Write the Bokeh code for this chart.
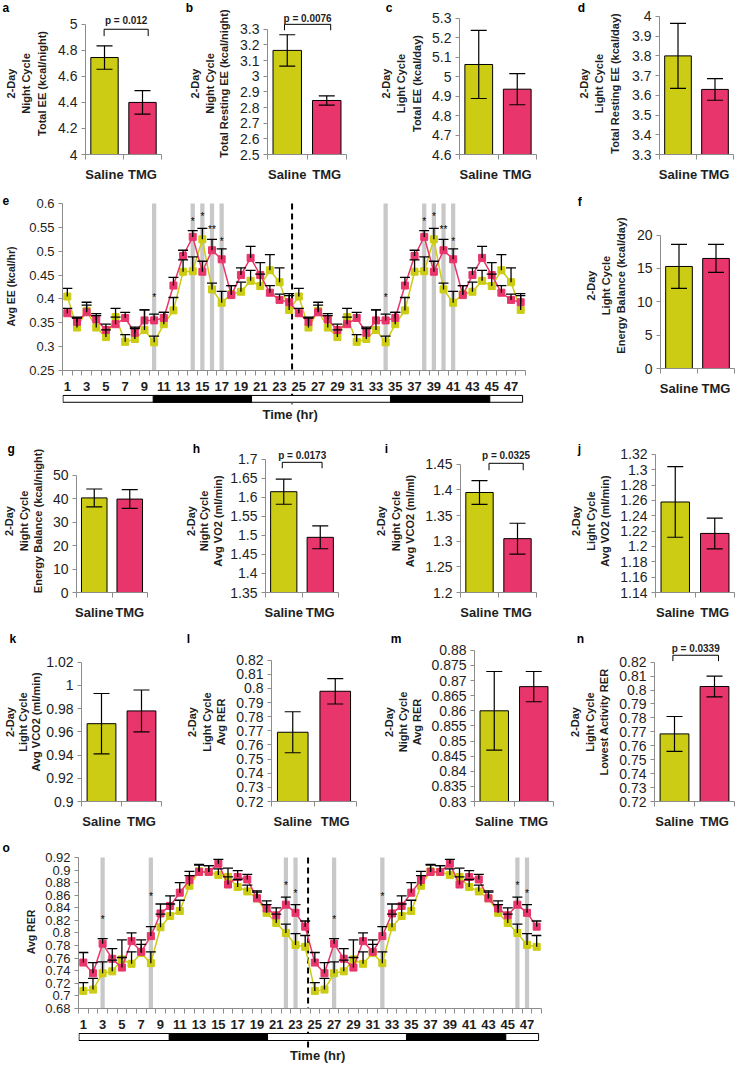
import math
from bokeh.plotting import figure
from bokeh.models import (Range1d, FixedTicker, CustomJSTickFormatter, Label,
                          Whisker, TeeHead, ColumnDataSource)
from bokeh.layouts import row, column
from bokeh.embed import file_html
from bokeh.resources import INLINE
from bokeh.core.properties import value

# ---------------- data ----------------
groups = ["Saline", "TMG"]
bar_colors = ["#cccc14", "#e8356b"]

a_mean = [4.745, 4.40]; a_err = [0.09, 0.09]
a_ticks = [4, 4.2, 4.4, 4.6, 4.8, 5]
b_mean = [3.165, 2.845]; b_err = [0.10, 0.03]
b_ticks = [2.5, 2.6, 2.7, 2.8, 2.9, 3, 3.1, 3.2, 3.3]
c_mean = [5.063, 4.936]; c_err = [0.175, 0.08]
c_ticks = [4.6, 4.7, 4.8, 4.9, 5, 5.1, 5.2, 5.3]
d_mean = [3.80, 3.63]; d_err = [0.165, 0.055]
d_ticks = [3.3, 3.4, 3.5, 3.6, 3.7, 3.8, 3.9, 4]
f_mean = [15.3, 16.5]; f_err = [3.3, 2.1]
f_ticks = [0, 5, 10, 15, 20]
g_mean = [40.3, 39.8]; g_err = [3.8, 4.0]
g_ticks = [0, 10, 20, 30, 40, 50]
h_mean = [1.615, 1.495]; h_err = [0.033, 0.030]
h_ticks = [1.35, 1.4, 1.45, 1.5, 1.55, 1.6, 1.65, 1.7]
i_mean = [1.395, 1.305]; i_err = [0.023, 0.030]
i_ticks = [1.2, 1.25, 1.3, 1.35, 1.4, 1.45]
j_mean = [1.258, 1.217]; j_err = [0.046, 0.020]
j_ticks = [1.14, 1.16, 1.18, 1.2, 1.22, 1.24, 1.26, 1.28, 1.3, 1.32]
k_mean = [0.967, 0.978]; k_err = [0.026, 0.018]
k_ticks = [0.9, 0.92, 0.94, 0.96, 0.98, 1, 1.02]
l_mean = [0.769, 0.798]; l_err = [0.0145, 0.009]
l_ticks = [0.72, 0.73, 0.74, 0.75, 0.76, 0.77, 0.78, 0.79, 0.8, 0.81, 0.82]
m_mean = [0.860, 0.868]; m_err = [0.013, 0.005]
m_ticks = [0.83, 0.835, 0.84, 0.845, 0.85, 0.855, 0.86, 0.865, 0.87, 0.875, 0.88]
n_mean = [0.7685, 0.8025]; n_err = [0.0125, 0.0075]
n_ticks = [0.72, 0.73, 0.74, 0.75, 0.76, 0.77, 0.78, 0.79, 0.8, 0.81, 0.82]

hours = list(range(1, 49))
hour_labels = list(range(1, 49, 2))

e_saline = [0.405, 0.340, 0.375, 0.340, 0.320, 0.362, 0.310, 0.316, 0.335, 0.309, 0.347, 0.376,
            0.457, 0.458, 0.525, 0.420, 0.392, 0.410, 0.415, 0.438, 0.427, 0.460, 0.435, 0.377,
            0.405, 0.340, 0.375, 0.340, 0.320, 0.362, 0.310, 0.316, 0.335, 0.309, 0.347, 0.376,
            0.457, 0.458, 0.525, 0.420, 0.392, 0.410, 0.415, 0.438, 0.427, 0.460, 0.435, 0.377]
e_saline_err = [0.017, 0.020, 0.018, 0.025, 0.015, 0.018, 0.015, 0.022, 0.042, 0.013, 0.025, 0.027,
                0.025, 0.030, 0.023, 0.013, 0.024, 0.018, 0.020, 0.022, 0.025, 0.033, 0.030, 0.030,
                0.017, 0.020, 0.018, 0.025, 0.015, 0.018, 0.015, 0.022, 0.042, 0.013, 0.025, 0.027,
                0.025, 0.030, 0.023, 0.013, 0.024, 0.018, 0.020, 0.022, 0.025, 0.033, 0.030, 0.030]
e_tmg = [0.370, 0.352, 0.372, 0.357, 0.335, 0.347, 0.360, 0.329, 0.355, 0.355, 0.360, 0.428,
         0.490, 0.530, 0.457, 0.502, 0.483, 0.408, 0.450, 0.486, 0.450, 0.413, 0.398, 0.393,
         0.370, 0.352, 0.372, 0.357, 0.335, 0.347, 0.360, 0.329, 0.355, 0.355, 0.360, 0.428,
         0.490, 0.530, 0.457, 0.502, 0.483, 0.408, 0.450, 0.486, 0.450, 0.413, 0.398, 0.393]
e_tmg_err = [0.010, 0.010, 0.015, 0.012, 0.012, 0.015, 0.012, 0.012, 0.022, 0.013, 0.012, 0.017,
             0.012, 0.013, 0.022, 0.023, 0.022, 0.020, 0.015, 0.024, 0.026, 0.015, 0.012, 0.018,
             0.010, 0.010, 0.015, 0.012, 0.012, 0.015, 0.012, 0.012, 0.022, 0.013, 0.012, 0.017,
             0.012, 0.013, 0.022, 0.023, 0.022, 0.020, 0.015, 0.024, 0.026, 0.015, 0.012, 0.018]
e_ticks = [0.25, 0.3, 0.35, 0.4, 0.45, 0.5, 0.55, 0.6]
e_sig_hours = [10, 14, 15, 16, 17, 34, 38, 39, 40, 41]
e_sig_marks = ["*", "*", "*", "**", "*", "*", "*", "*", "**", "*"]
e_sig_y = [0.404, 0.562, 0.573, 0.545, 0.520, 0.404, 0.562, 0.573, 0.545, 0.520]

o_saline = [0.708, 0.710, 0.736, 0.739, 0.758, 0.751, 0.768, 0.752, 0.809, 0.827, 0.835, 0.875,
            0.898, 0.897, 0.892, 0.889, 0.873, 0.866, 0.855, 0.832, 0.816, 0.800, 0.781, 0.778,
            0.708, 0.710, 0.736, 0.739, 0.758, 0.751, 0.768, 0.752, 0.809, 0.827, 0.835, 0.875,
            0.898, 0.897, 0.892, 0.889, 0.873, 0.866, 0.855, 0.832, 0.816, 0.800, 0.781, 0.778]
o_saline_err = [0.013, 0.018, 0.018, 0.018, 0.031, 0.019, 0.021, 0.018, 0.021, 0.019, 0.017, 0.016,
                0.010, 0.010, 0.010, 0.014, 0.012, 0.010, 0.012, 0.013, 0.014, 0.014, 0.018, 0.018,
                0.013, 0.018, 0.018, 0.018, 0.031, 0.019, 0.021, 0.018, 0.021, 0.019, 0.017, 0.016,
                0.010, 0.010, 0.010, 0.014, 0.012, 0.010, 0.012, 0.013, 0.014, 0.014, 0.018, 0.018]
o_tmg = [0.753, 0.736, 0.783, 0.759, 0.745, 0.787, 0.770, 0.795, 0.831, 0.843, 0.864, 0.884,
         0.897, 0.897, 0.910, 0.877, 0.889, 0.885, 0.855, 0.839, 0.828, 0.845, 0.832, 0.810,
         0.753, 0.736, 0.783, 0.759, 0.745, 0.787, 0.770, 0.795, 0.831, 0.843, 0.864, 0.884,
         0.897, 0.897, 0.910, 0.877, 0.889, 0.885, 0.855, 0.839, 0.828, 0.845, 0.832, 0.810]
o_tmg_err = [0.016, 0.017, 0.008, 0.016, 0.016, 0.013, 0.012, 0.015, 0.015, 0.016, 0.016, 0.014,
             0.012, 0.010, 0.007, 0.012, 0.010, 0.008, 0.010, 0.012, 0.012, 0.012, 0.013, 0.009,
             0.016, 0.017, 0.008, 0.016, 0.016, 0.013, 0.012, 0.015, 0.015, 0.016, 0.016, 0.014,
             0.012, 0.010, 0.007, 0.012, 0.010, 0.008, 0.010, 0.012, 0.012, 0.012, 0.013, 0.009]
o_ticks = [0.68, 0.7, 0.72, 0.74, 0.76, 0.78, 0.8, 0.82, 0.84, 0.86, 0.88, 0.9, 0.92]
o_sig_hours = [3, 8, 22, 23, 27, 32, 46, 47]
o_sig_marks = ["*"] * 8
o_sig_y = [0.822, 0.858, 0.876, 0.862, 0.822, 0.858, 0.876, 0.862]

light_span = [0.55, 48.2]
dark_start = [9.9, 34.5]
dark_end = [20.1, 44.8]
day_split = 24.3

# ---------------- styling / layout helpers ----------------
FONT = "Liberation Sans"
AXC = "#8c8c8c"
TXC = "#1e1e1e"
PW, PH = 735, 1064


def fx(X):
    return (X - 2.0) * PW / 746.0


def fy(Y):
    return (Y - 2.0) * PH / 1078.0


fmt = CustomJSTickFormatter(code="return String(Number(tick.toFixed(4)));")


def make_fig(cell, frame, xr, yref):
    cx0, cy0, cx1, cy1 = cell
    x0, x1, ft, fb = frame
    vt, pt, vb, pb = yref
    kk = (pb - pt) / (vt - vb)

    def yd(py):
        return vt - (py - pt) / kk

    def xd(px):
        return xr[0] + (px - x0) * (xr[1] - xr[0]) / (x1 - x0)

    L, T, R, B = round(fx(cx0)), round(fy(cy0)), round(fx(cx1)), round(fy(cy1))
    FL, FT, FR, FB = round(fx(x0)), round(fy(ft)), round(fx(x1)), round(fy(fb))
    p = figure(width=R - L, height=B - T, x_range=Range1d(*xr), y_range=Range1d(yd(fb), yd(ft)),
               toolbar_location=None, output_backend="svg",
               min_border_left=FL - L, min_border_right=R - FR,
               min_border_top=FT - T, min_border_bottom=B - FB,
               outline_line_color=None, background_fill_color="white",
               border_fill_color="white")
    p.xgrid.visible = False
    p.ygrid.visible = False
    p.title.visible = False
    p._geo = dict(FL=FL, FT=FT, L=L, T=T)
    return p, xd, yd


def set_letter(p, letter, lx, ly):
    g = p._geo
    border = g["FT"] - g["T"]
    box_bottom = (fy(ly) - g["T"]) + 6.0
    st = 2.0 * (border - box_bottom)
    st = max(-12.0, min(st, border - 16.0))
    p.title.visible = True
    p.title.text = letter
    p.title.align = "left"
    p.title.vertical_align = "bottom"
    p.title.offset = (fx(lx) - g["L"]) - (g["FL"] - g["L"])
    try:
        p.title.standoff = st
    except Exception:
        p.title.standoff = 0
    p.title.text_font = FONT
    p.title.text_font_size = "12px"
    p.title.text_font_style = "bold"
    p.title.text_color = "black"


def style_y(p, ticks, fs, label, label_fs, standoff, lh):
    ax = p.yaxis[0]
    ax.ticker = FixedTicker(ticks=ticks)
    ax.formatter = fmt
    ax.bounds = (ticks[0], ticks[-1])
    ax.axis_line_color = AXC
    ax.major_tick_line_color = AXC
    ax.minor_tick_line_color = None
    ax.major_tick_out = 4
    ax.major_tick_in = 0
    ax.major_label_standoff = 4
    ax.major_label_text_font = FONT
    ax.major_label_text_font_size = f"{fs}px"
    ax.major_label_text_color = TXC
    ax.axis_label = label
    ax.axis_label_standoff = standoff
    ax.axis_label_text_font = FONT
    ax.axis_label_text_font_size = f"{label_fs}px"
    ax.axis_label_text_font_style = "bold"
    ax.axis_label_text_color = TXC
    ax.axis_label_text_line_height = lh


def bar_panel(letter, lxy, cell, frame, yref, ticks, ylines, lab, means, errs, pinfo=None):
    p, xd, yd = make_fig(cell, frame, (0.5, len(groups) + 0.5), yref)
    style_y(p, ticks, 14, "\n".join(ylines), 11, lab[0], lab[1])
    ax = p.xaxis[0]
    xs = [i + 1 for i in range(len(groups))]
    ax.ticker = FixedTicker(ticks=xs, minor_ticks=[i + 0.5 for i in range(len(groups) + 1)])
    ax.major_label_overrides = {x: g for x, g in zip(xs, groups)}
    ax.major_tick_line_color = None
    ax.major_tick_out = 0
    ax.major_tick_in = 0
    ax.minor_tick_out = 5
    ax.minor_tick_in = 0
    ax.minor_tick_line_color = AXC
    ax.axis_line_color = AXC
    ax.major_label_standoff = 7
    ax.major_label_text_font = FONT
    ax.major_label_text_font_style = "bold"
    ax.major_label_text_font_size = "13px"
    ax.major_label_text_color = TXC

    src = ColumnDataSource(dict(x=xs, top=means,
                                lo=[m - e for m, e in zip(means, errs)],
                                hi=[m + e for m, e in zip(means, errs)],
                                color=bar_colors))
    p.vbar(x="x", top="top", bottom=ticks[0], width=0.72, fill_color="color",
           line_color="black", line_width=1, source=src)
    p.add_layout(Whisker(source=src, base="x", lower="lo", upper="hi", line_color="black",
                         line_width=1.2, level="annotation",
                         upper_head=TeeHead(size=16, line_color="black", line_width=1.2),
                         lower_head=TeeHead(size=16, line_color="black", line_width=1.2)))
    set_letter(p, letter, *lxy)
    if pinfo is not None:
        text, bx, (ty, top, leg) = pinfo
        p.line(x=[bx[0], bx[0], bx[1], bx[1]], y=[yd(leg), yd(top), yd(top), yd(leg)],
               line_color="black", line_width=1)
        p.add_layout(Label(x=(bx[0] + bx[1]) / 2, y=yd(ty), text=text, text_font=FONT,
                           text_font_size="10px", text_font_style="bold", text_color=TXC,
                           text_align="center", text_baseline="middle"))
    return p


def line_panel(letter, lxy, cell, frame, yref, ticks, ylabel, lab_standoff, sal, sal_err, tmg, tmg_err,
               sig_h, sig_m, sig_y):
    p, xd, yd = make_fig(cell, frame, (0.5, 48.5), yref)
    style_y(p, ticks, 13, ylabel, 10.5, lab_standoff, 1.2)
    ax = p.xaxis[0]
    ax.ticker = FixedTicker(ticks=hour_labels, minor_ticks=[h - 0.5 for h in hours] + [hours[-1] + 0.5])
    ax.major_tick_out = 0
    ax.major_tick_in = 0
    ax.major_tick_line_color = None
    ax.minor_tick_out = 5
    ax.minor_tick_in = 0
    ax.minor_tick_line_color = AXC
    ax.axis_line_color = AXC
    ax.major_label_standoff = 6
    ax.major_label_text_font = FONT
    ax.major_label_text_font_style = "bold"
    ax.major_label_text_font_size = "13px"
    ax.major_label_text_color = TXC

    p.quad(left=[h - 0.22 for h in sig_h], right=[h + 0.22 for h in sig_h],
           bottom=ticks[0], top=ticks[-1], fill_color="#c8c8c8", line_color=None)
    p.segment(x0=[day_split], y0=[ticks[-1]], x1=[day_split], y1=[ticks[0]],
              line_color="black", line_width=2, line_dash="6 4")
    for vals, errs, col in ((sal, sal_err, bar_colors[0]), (tmg, tmg_err, bar_colors[1])):
        src = ColumnDataSource(dict(x=hours, y=vals, up=[v + e for v, e in zip(vals, errs)]))
        p.add_layout(Whisker(source=src, base="x", lower="y", upper="up", line_color="black",
                             line_width=1.3, level="glyph",
                             upper_head=TeeHead(size=10, line_color="black", line_width=1.3),
                             lower_head=None))
        p.line("x", "y", source=src, line_color=col, line_width=1.5)
        p.scatter("x", "y", source=src, marker="square", size=7, fill_color=col, line_color=col)
    p.text(x=sig_h, y=sig_y, text=sig_m, text_font=value(FONT), text_font_size="10px",
           text_color="black", text_align="center", text_baseline="middle")
    set_letter(p, letter, *lxy)
    return p


def time_strip(cell, frame_x, bar_px, dash_end_px, label_px, label_x):
    cx0, cy0, cx1, cy1 = cell
    p, xd, yd = make_fig(cell, (frame_x[0], frame_x[1], cy0, cy1), (0.5, 48.5), (1, cy0, 0, cy1))
    p.xaxis.visible = False
    p.yaxis.visible = False
    bt, bb = yd(bar_px[0]), yd(bar_px[1])
    p.segment(x0=[day_split], y0=[1], x1=[day_split], y1=[yd(dash_end_px)],
              line_color="black", line_width=2, line_dash="6 4")
    p.quad(left=[light_span[0]], right=[light_span[1]], top=bt, bottom=bb,
           fill_color="white", line_color="black", line_width=1)
    p.quad(left=dark_start, right=dark_end, top=bt, bottom=bb,
           fill_color="black", line_color="black", line_width=1)
    p.text(x=[label_x], y=[yd(label_px)], text=["Time (hr)"], text_font=value(FONT),
           text_font_size="13px", text_font_style="bold", text_color=TXC,
           text_align="center", text_baseline="middle")
    return p


# ---------------- panels (common frame top/bottom inside each row) ----------------
R1T, R1B = 14, 158
pa = bar_panel("a", (4, 8), (2, 2, 188, 192), (88, 165, R1T, R1B), (5, 26, 4, R1B), a_ticks,
               ["2-Day", "Night Cycle", "Total EE (kcal/night)"], (7, 1.3), a_mean, a_err,
               ("p = 0.012", (0.99, 2.15), (22, 31, 38)))
pb = bar_panel("b", (190, 8), (188, 2, 370, 192), (273, 353, R1T, R1B), (3.3, 31, 2.5, R1B), b_ticks,
               ["2-Day", "Night Cycle", "Total Resting EE (kcal/night)"], (7, 1.2), b_mean, b_err,
               ("p = 0.0076", (0.93, 2.1), (20, 26, 32)))
pc = bar_panel("c", (393, 6), (370, 2, 560, 192), (468, 546, R1T, R1B), (5.3, 20, 4.6, R1B), c_ticks,
               ["2-Day", "Light Cycle", "Total EE (kcal/day)"], (6, 1.3), c_mean, c_err)
pd_ = bar_panel("d", (588, 6), (560, 2, 748, 192), (671, 746, R1T, R1B), (4, 18, 3.3, R1B), d_ticks,
                ["2-Day", "Light Cycle", "Total Resting EE (kcal/day)"], (8, 1.3), d_mean, d_err)

R2T = 207
pe = line_panel("e", (4, 203), (2, 192, 560, 400), (65, 535, R2T, 377), (0.6, 208, 0.25, 377),
                e_ticks, "Avg EE (kcal/hr)", 9, e_saline, e_saline_err, e_tmg, e_tmg_err,
                e_sig_hours, e_sig_marks, e_sig_y)
pe_strip = time_strip((2, 400, 560, 440), (65, 535), (402, 409), 411, 422, 24.1)
pf = bar_panel("f", (588, 210), (560, 192, 748, 440), (672, 747, R2T, 375), (20, 240, 0, 375), f_ticks,
               ["2-Day", "Light Cycle", "Energy Balance (kcal/day)"], (7, 1.25), f_mean, f_err)

R3T, R3B = 457, 602
pg = bar_panel("g", (4, 458), (2, 440, 186, 640), (74, 151, R3T, R3B), (50, 483, 0, R3B), g_ticks,
               ["2-Day", "Night Cycle", "Energy Balance (kcal/night)"], (6, 1.2), g_mean, g_err)
ph = bar_panel("h", (193, 458), (186, 440, 372, 640), (267, 345, R3T, R3B), (1.7, 467, 1.35, R3B), h_ticks,
               ["2-Day", "Night Cycle", "Avg VO2 (ml/min)"], (3, 1.15), h_mean, h_err,
               ("p = 0.0173", (0.96, 2.05), (463, 470, 476)))
pi_ = bar_panel("i", (392, 458), (372, 440, 556, 640), (469, 546, R3T, R3B), (1.45, 472, 1.2, R3B), i_ticks,
                ["2-Day", "Night Cycle", "Avg VCO2 (ml/ml)"], (6, 1.2), i_mean, i_err,
                ("p = 0.0325", (1.25, 2.15), (463, 471, 478)))
pj = bar_panel("j", (588, 458), (556, 440, 748, 640), (667, 747, R3T, R3B), (1.32, 462, 1.14, R3B), j_ticks,
               ["2-Day", "Light Cycle", "Avg VO2 (ml/min)"], (6, 1.2), j_mean, j_err)

R4T, R4B = 652, 814
pk = bar_panel("k", (4, 650), (2, 640, 185, 850), (77, 165, R4T, R4B), (1.02, 672, 0.9, R4B), k_ticks,
               ["2-Day", "Light Cycle", "Avg VCO2 (ml/min)"], (1, 1.1), k_mean, k_err)
pl = bar_panel("l", (191, 650), (185, 640, 375, 850), (277, 363, R4T, R4B), (0.82, 670, 0.72, R4B), l_ticks,
               ["2-Day", "Light Cycle", "Avg RER"], (6, 1.2), l_mean, l_err)
pm = bar_panel("m", (398, 650), (375, 640, 565, 850), (483, 563, R4T, R4B), (0.88, 660, 0.83, R4B), m_ticks,
               ["2-Day", "Night Cycle", "Avg RER"], (5, 1.2), m_mean, m_err)
pn = bar_panel("n", (587, 650), (565, 640, 748, 850), (666, 747, R4T, R4B), (0.82, 672, 0.72, R4B), n_ticks,
               ["2-Day", "Light Cycle", "Lowest Activity RER"], (6, 1.2), n_mean, n_err,
               ("p = 0.0339", (0.96, 2.1), (658, 665, 671)))

po = line_panel("o", (4, 862), (2, 850, 748, 1047), (81, 551, 868, 1025), (0.92, 870, 0.68, 1025),
                o_ticks, "Avg RER", 5, o_saline, o_saline_err, o_tmg, o_tmg_err,
                o_sig_hours, o_sig_marks, o_sig_y)
po_strip = time_strip((2, 1047, 748, 1080), (81, 551), (1049, 1056), 1064, 1071, 25.3)

layout = column(row(pa, pb, pc, pd_),
                row(column(pe, pe_strip), pf),
                row(pg, ph, pi_, pj),
                row(pk, pl, pm, pn),
                column(po, po_strip))

open("out.html", "w").write(file_html(layout, INLINE))
